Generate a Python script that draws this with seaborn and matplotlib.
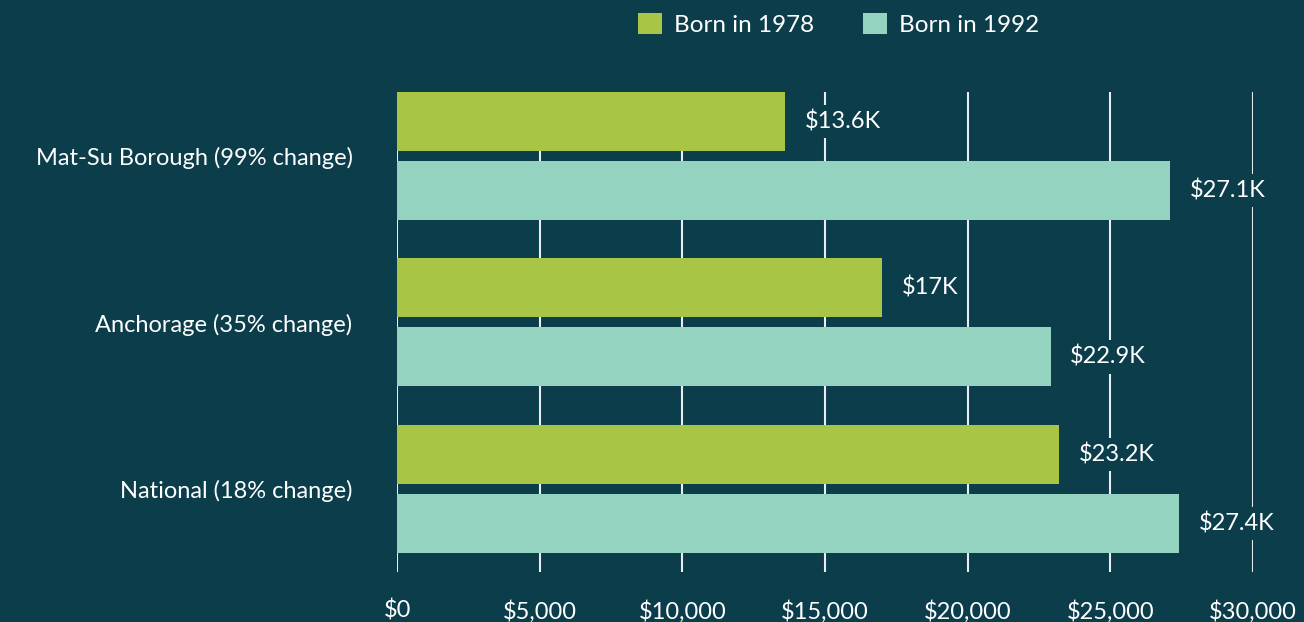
import matplotlib
matplotlib.use("Agg")
import matplotlib.pyplot as plt
from matplotlib.ticker import FuncFormatter
import seaborn as sns
import pandas as pd

# data
regions = ["Mat-Su Borough (99% change)", "Anchorage (35% change)", "National (18% change)"]
cohorts = ["Born in 1978", "Born in 1992"]
born_1978 = [13600, 17000, 23200]
born_1992 = [27100, 22900, 27400]

BG = "#0b3d4a"
GREEN = "#a8c545"
TEAL = "#93d3c0"

df = pd.DataFrame({
    "region": regions * 2,
    "cohort": [cohorts[0]] * 3 + [cohorts[1]] * 3,
    "income": born_1978 + born_1992,
})

sns.set_theme(style="dark")
plt.rcParams["font.family"] = ["Lato", "DejaVu Sans"]

fig = plt.figure(figsize=(13.04, 6.22), dpi=100, facecolor=BG)
ax = fig.add_axes([0.3045, 0.0804, 0.6565, 0.7716])
ax.set_facecolor(BG)

sns.barplot(data=df, y="region", x="income", hue="cohort", order=regions,
            hue_order=cohorts, palette=[GREEN, TEAL], orient="h",
            width=0.83, gap=0.145, saturation=1, linewidth=0,
            ax=ax, zorder=3, legend=True)

ax.set_xlim(0, 30000)
ax.set_ylim(2.5, -0.385)
ax.set_xticks(range(0, 30001, 5000))
ax.xaxis.set_major_formatter(FuncFormatter(lambda v, p: f"${v:,.0f}"))
ax.grid(axis="x", color="#e8eef0", lw=1.5, zorder=0)
ax.grid(axis="y", visible=False)
for s in ax.spines.values():
    s.set_visible(False)
ax.set_xlabel("")
ax.set_ylabel("")
ax.tick_params(axis="x", colors="white", labelsize=17, pad=20, length=0)
ax.tick_params(axis="y", colors="white", labelsize=17, pad=32, length=0)
for t in ax.get_yticklabels():
    t.set_va("center_baseline")

for cont in ax.containers:
    labels = [f"${v / 1000:g}K" for v in cont.datavalues]
    texts = ax.bar_label(cont, labels=labels, padding=14, color="white", fontsize=17)
    for t in texts:
        t.set_bbox(dict(facecolor=BG, edgecolor="none", pad=4))
        t.set_zorder(4)

handles, lbls = ax.get_legend_handles_labels()
ax.get_legend().remove()
fig.legend(handles, lbls, loc="upper center", bbox_to_anchor=(0.643, 1.015), ncol=2,
           frameon=False, fontsize=17.5, labelcolor="white", handlelength=1.0,
           handleheight=1.0, handletextpad=0.5, columnspacing=2.0)

fig.savefig("out.png", dpi=100, facecolor=BG)
